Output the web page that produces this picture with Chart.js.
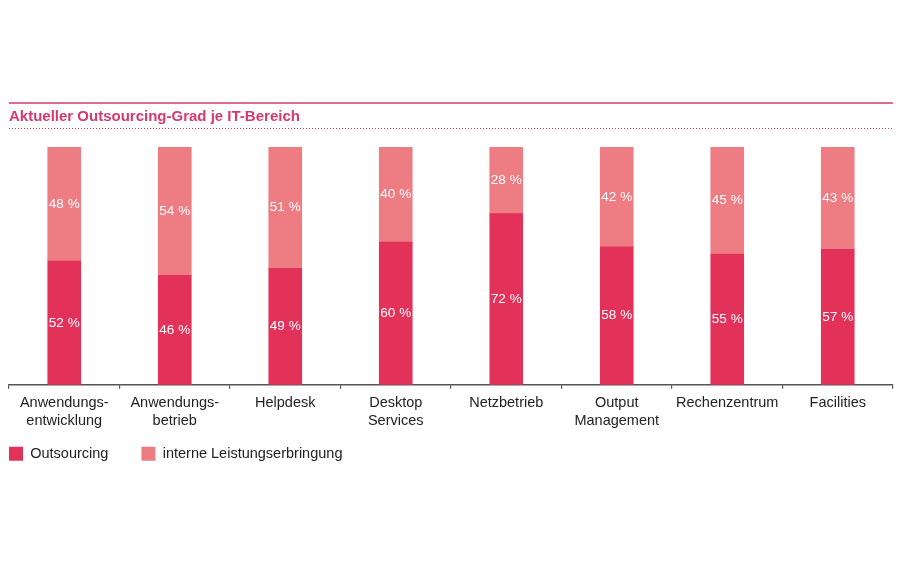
<!DOCTYPE html>
<html>
<head>
<meta charset="utf-8">
<script src="https://cdn.jsdelivr.net/npm/chart.js@4/dist/chart.umd.min.js"></script>
<style>
  html, body { margin: 0; padding: 0; background: #fff; }
  #wrap { width: 900px; height: 563px; }
</style>
</head>
<body>
<div id="wrap"><canvas id="chart" width="900" height="563"></canvas></div>
<script>
var categories = [
  ['Anwendungs-', 'entwicklung'],
  ['Anwendungs-', 'betrieb'],
  'Helpdesk',
  ['Desktop', 'Services'],
  'Netzbetrieb',
  ['Output', 'Management'],
  'Rechenzentrum',
  'Facilities'
];
var outsourcing = [52, 46, 49, 60, 72, 58, 55, 57];
var intern = [48, 54, 51, 40, 28, 42, 45, 43];
var chartTitle = 'Aktueller Outsourcing-Grad je IT-Bereich';

var pink = '#d6396b';
var darkRed = '#e2325a';
var lightRed = '#ee7d83';
var fontFamily = '"Liberation Sans", Arial, sans-serif';

// title with the solid rule above and the dotted rule below
var headerPlugin = {
  id: 'header',
  afterDraw: function(chart) {
    var ctx = chart.ctx;
    var left = chart.chartArea.left, right = chart.chartArea.right;
    ctx.save();
    ctx.strokeStyle = pink;
    ctx.lineWidth = 1.5;
    ctx.beginPath();
    ctx.moveTo(left, 103);
    ctx.lineTo(right, 103);
    ctx.stroke();
    ctx.lineWidth = 1;
    ctx.setLineDash([1, 2]);
    ctx.beginPath();
    ctx.moveTo(left, 128.5);
    ctx.lineTo(right, 128.5);
    ctx.stroke();
    ctx.setLineDash([]);
    ctx.fillStyle = pink;
    ctx.font = 'bold 15px ' + fontFamily;
    ctx.textBaseline = 'alphabetic';
    ctx.textAlign = 'left';
    ctx.fillText(chartTitle, left, 121);
    ctx.restore();
  }
};

// percentage labels in the middle of each segment
var valueLabels = {
  id: 'valueLabels',
  afterDatasetsDraw: function(chart) {
    var ctx = chart.ctx;
    ctx.save();
    ctx.fillStyle = '#fff';
    ctx.font = '13.5px ' + fontFamily;
    ctx.textAlign = 'center';
    ctx.textBaseline = 'middle';
    chart.data.datasets.forEach(function(ds, i) {
      chart.getDatasetMeta(i).data.forEach(function(bar, j) {
        var y = (bar.y + bar.base) / 2;
        ctx.fillText(ds.data[j] + ' %', bar.x, y);
      });
    });
    ctx.restore();
  }
};

// pull the legend flush left and a bit closer to the axis labels
var legendShift = {
  id: 'legendShift',
  afterLayout: function(chart) {
    var lg = chart.legend;
    lg.left -= 33;
    lg.right -= 33;
    lg.top -= 22;
    lg.bottom -= 22;
  }
};

new Chart(document.getElementById('chart').getContext('2d'), {
  type: 'bar',
  data: {
    labels: categories,
    datasets: [
      { label: 'Outsourcing', data: outsourcing, backgroundColor: darkRed },
      { label: 'interne Leistungserbringung', data: intern, backgroundColor: lightRed }
    ]
  },
  options: {
    responsive: false,
    animation: false,
    layout: { padding: { top: 147, left: 9, right: 7, bottom: 70 } },
    datasets: { bar: { barThickness: 33 } },
    scales: {
      x: {
        stacked: true,
        grid: { display: true, drawOnChartArea: false, offset: true, tickLength: 4, color: '#555', lineWidth: 1.2 },
        border: { display: true, color: '#555', width: 1.5 },
        ticks: {
          color: '#222',
          padding: 6,
          maxRotation: 0,
          font: { family: fontFamily, size: 14.5 }
        }
      },
      y: {
        stacked: true,
        display: false,
        min: 0,
        max: 100
      }
    },
    plugins: {
      legend: {
        position: 'bottom',
        align: 'start',
        labels: {
          boxWidth: 14,
          boxHeight: 14,
          padding: 33,
          color: '#222',
          font: { family: fontFamily, size: 14.5 }
        }
      },
      tooltip: { enabled: false }
    }
  },
  plugins: [headerPlugin, valueLabels, legendShift]
});
</script>
</body>
</html>
